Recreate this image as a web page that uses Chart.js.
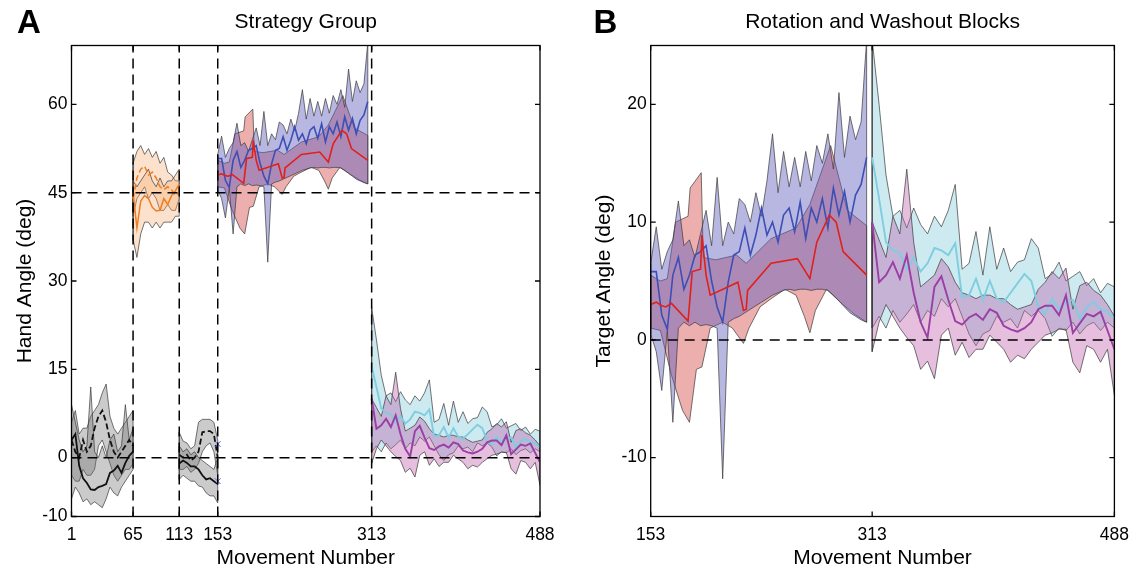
<!DOCTYPE html>
<html>
<head>
<meta charset="utf-8">
<script src="https://cdn.jsdelivr.net/npm/chart.js@4.4.0/dist/chart.umd.min.js"></script>
<style>
    html, body { margin: 0; padding: 0; background: #fff; }
    #wrap { position: relative; width: 1137px; height: 567px; }
    #wrap canvas { position: absolute; top: 0; }
    #chartA { left: 0; }
    #chartB { left: 570px; }
</style>
</head>
<body>
<div id="wrap">
    <canvas id="chartA" width="570" height="567"></canvas>
    <canvas id="chartB" width="567" height="567"></canvas>
</div>
<script>
// ---- axis ticks ----
const xTicksA = [1, 65, 113, 153, 313, 488];
const yTicksA = [-10, 0, 15, 30, 45, 60];
const xTicksB = [153, 313, 488];
const yTicksB = [-10, 0, 10, 20];

// hand angle = target angle + 45 during the rotation block
const ROTATION = 45;

// ---- baseline 1 (movements 1-65), hand angle ----
const base1X = [1, 5, 9, 13, 17, 21, 25, 29, 33, 37, 41, 45, 49, 53, 57, 61, 65];
const gray1SHi = [9, 6, 3, 1, 2, 12, 1, 0, 2, 0, 3, 4, 1, 2, 9, 3, 5];
const gray1SLo = [-7, -5, -6, -7.5, -7, -8, -7.5, -8, -8.5, -7, -5, -6, -6.5, -5, -4, -3, -2];
const black1S = [3, 4, -1.4, -3.5, -4.3, -5.4, -5.5, -5, -4.8, -4.5, -2.6, -2.2, -1.4, -2.6, -0.9, 0.3, 1];
const gray1DHi = [6, 8, 4, 5, 5, 7, 8, 9, 11, 12.5, 7, 5, 4, 5, 6, 7, 8];
const gray1DLo = [-3, -4, -4, -2, -3, -3, -2, 2, 3, 1, -1, -3, -4, -3, -2, -2, -1];
const black1D = [3, 1, 0, 3, 1, 2, 5, 7, 8, 6, 3, 1, 0, 1, 2, 3, 2];

// ---- strategy block (movements 65-113), hand angle ----
const orX = [65, 69, 73, 77, 81, 85, 89, 93, 97, 101, 105, 109, 113];
const or1Hi = [50, 52, 53, 51.5, 52.5, 51, 52, 50, 51, 48.5, 48, 47, 47];
const or1Lo = [41, 44, 45, 46, 44, 45, 44, 42, 42, 43, 42, 42, 44];
const or1Mean = [44, 47.5, 49, 49.5, 48, 48.5, 47.5, 46, 45.5, 46, 45.5, 44.5, 45];
const or2Hi = [47, 46, 47, 48, 49, 47, 46, 47.5, 46, 47, 47, 48, 49];
const or2Lo = [37, 34, 38, 40, 40, 39, 40, 39, 40, 40, 40, 41, 41];
const or2Mean = [45, 39, 43.6, 44.5, 44, 42.5, 41.9, 42, 44, 43, 44.5, 45.3, 46.5];

// ---- baseline 2 (movements 113-153), hand angle ----
const base2X = [113, 117, 121, 125, 129, 133, 137, 141, 145, 149, 153];
const gray2SHi = [2, 1, 1.5, 0.5, 1, 0, -0.5, -1, -1.5, -2, 0];
const gray2SLo = [-3.7, -3, -3.5, -4, -4, -4.8, -5, -6, -6.5, -6.5, -7.7];
const black2S = [-1, -0.5, -0.9, -1.5, -1.5, -2, -3, -3.7, -3.5, -4, -4.5];
const gray2DHi = [4.3, 2.8, 2.5, 1.5, 2, 6, 6.5, 6.5, 6.5, 6, 3];
const gray2DLo = [-2, -2, -1.5, -2.5, -2, -1, 1, 2, 2.5, 1, -3];
const black2D = [0.5, 0, 0.5, -0.5, 0, 1, 4.3, 4.5, 4.5, 4, 0];
const markX = [153, 153];
const markY = [2.3, -4];

// ---- rotation block (movements 153-309), target angle ----
const rotX = [153, 157, 161, 165, 169, 173, 177, 181, 185, 189, 193, 197, 201, 205, 209, 213, 217, 221, 225, 229,
              233, 237, 241, 245, 249, 253, 257, 261, 265, 269, 273, 277, 281, 285, 289, 293, 297, 301, 305, 309];
const blueHi = [6.5, 9.6, 6.0, 7.5, 8.5, 11.8, 8.0, 8.5, 7.0, 9.0, 11.0, 8.0, 13.8, 8.0, 10.0, 9.0, 12.0, 11.5, 10.0, 12.5,
                10.5, 13.5, 17.5, 12.5, 16.0, 13.0, 15.5, 13.0, 16.0, 13.5, 16.5, 15.0, 17.5, 14.5, 21.0, 15.5, 19.0, 17.0, 18.5, 25.5];
const blueLo = [0.5, -1.0, -4.3, 0.8, -7.0, 1.0, 1.5, 1.2, 1.5, 1.2, 1.3, 1.2, 1.0, -11.8, 1.5, 1.8, 2.0, 2.3, 2.6, 2.9,
                3.2, 3.5, 3.8, 4.0, 4.2, 4.3, 4.2, 4.3, 4.3, 4.2, 4.3, 4.3, 4.2, 3.8, 3.3, 2.8, 2.3, 2.0, 1.7, 1.5];
const blueMean = [5.8, 5.8, 2.1, 0.9, 5.5, 7.0, 4.3, 5.5, 7.2, 7.5, 8.0, 5.0, 2.8, 1.5, 4.9, 7.2, 7.5, 9.5, 7.2, 8.9,
                  11.2, 8.9, 10.0, 8.3, 10.6, 11.2, 9.2, 11.7, 8.6, 11.2, 10.0, 12.0, 9.5, 12.9, 10.6, 12.6, 10.0, 12.3, 13.2, 15.5];
const redHiX = [153, 160, 165, 171, 180, 181.5, 189.5, 191, 200, 215, 222, 240, 258, 268, 283, 295, 309];
const redHi = [5.5, 5.0, 5.2, 10.0, 10.5, 12.9, 14.2, 7.0, 6.8, 7.2, 6.5, 8.6, 9.5, 11.5, 16.5, 11.0, 9.7];
const redLoX = [153, 160, 168, 176, 181, 186, 190, 196, 205, 212, 220, 224, 232, 240, 250, 258, 264, 268, 272, 280, 290, 300, 309];
const redLo = [1.0, 0.8, -3.0, -6.0, -7.0, -2.5, -2.3, 1.0, 1.5, 1.0, -0.3, 1.0, 2.8, 3.5, 4.3, 3.8, 2.0, 0.6, 2.5, 4.3, 3.2, 2.2, 1.5];
const redMeanX = [153, 157, 161, 164, 168, 180, 183, 189, 190, 193, 196, 216, 220, 222, 223, 240, 259, 268, 273, 282, 287, 292, 309];
const redMean = [3.0, 3.2, 2.9, 2.8, 3.1, 1.6, 5.8, 6.0, 8.9, 5.5, 3.8, 4.9, 2.5, 2.6, 4.2, 6.5, 6.9, 5.2, 8.3, 10.6, 10.0, 7.5, 5.5];

// ---- washout block (movements 313-488), hand angle = target angle ----
const washX = [313, 318, 323, 328, 333, 338, 343, 348, 353, 358, 363, 368, 373, 378, 383, 388, 393, 398,
               403, 408, 413, 418, 423, 428, 433, 438, 443, 448, 453, 458, 463, 468, 473, 478, 483, 488];
const cyanHi = [25.5, 20.0, 14.0, 10.5, 11.0, 9.5, 11.2, 9.8, 9.0, 10.5, 9.6, 11.0, 13.2, 6.0, 6.5, 9.2, 5.5, 9.6,
                6.0, 7.8, 5.8, 6.6, 6.8, 8.6, 7.8, 5.2, 5.6, 6.6, 5.0, 5.4, 5.8, 4.6, 5.2, 4.0, 4.8, 4.5];
const cyanLo = [1.0, 2.0, 1.0, 2.5, 1.5, 2.2, 3.0, 1.5, 2.5, 2.0, 3.5, 2.8, 3.5, 2.0, 0.5, -0.5, 0.5, 0.8,
                2.0, 1.5, 1.8, 1.0, 2.5, 2.0, 2.5, 1.8, 0.3, 1.0, 0.8, 1.5, 0.5, 1.2, 1.5, 0.8, 1.5, 1.0];
const cyanMean = [15.5, 12.0, 8.3, 7.6, 7.4, 6.0, 7.0, 5.8, 6.5, 7.8, 7.6, 7.2, 8.2, 3.6, 3.8, 5.2, 3.4, 5.0,
                  3.5, 3.2, 4.0, 4.8, 5.6, 5.0, 2.8, 2.2, 3.5, 2.6, 3.2, 3.4, 1.8, 2.8, 3.2, 2.6, 2.4, 1.8];
const pinkHi = [10.0, 8.5, 7.0, 10.5, 9.0, 14.5, 8.3, 4.5, 5.0, 5.5, 6.9, 6.2, 4.9, 4.0, 3.8, 3.5, 3.8, 3.8,
                3.5, 3.5, 3.0, 2.6, 2.8, 3.0, 4.3, 4.9, 5.8, 5.2, 6.1, 2.6, 4.6, 4.9, 4.2, 3.8, 3.0, 2.0];
const pinkLo = [-1.0, 1.5, 3.0, 2.0, 1.0, 0.2, -0.5, -2.5, -1.8, -3.3, 0.4, 1.0, -1.3, -0.2, -1.5, -0.8, -0.8, 0.4,
                -0.2, -0.8, -1.9, -1.3, -1.6, -0.8, -0.2, 0.4, 0.6, 0.9, 0.9, -1.9, -2.8, -0.5, -0.8, -1.9, -0.8, -4.7];
const purpleMean = [10.0, 4.9, 5.5, 6.6, 5.2, 7.2, 4.0, 1.5, 0.2, 4.5, 5.4, 3.4, 1.6, 1.3, 1.9, 2.2, 1.7, 2.6,
                    2.3, 1.2, 0.9, 0.7, 1.0, 1.5, 2.6, 2.9, 2.9, 2.1, 3.8, 0.6, 1.4, 2.2, 2.0, 2.4, 0.8, -0.8];

const FONT = "Helvetica, Arial, 'Liberation Sans', sans-serif";
const EDGE = '#3a3a3a';

Chart.defaults.font.family = FONT;
Chart.defaults.color = '#000';

function xy(xs, ys, shift) {
    return xs.map((x, i) => ({ x: x, y: ys[i] + shift }));
}

// closed outline: lower edge forwards, upper edge backwards
function band(loX, lo, hiX, hi, color, shift, order) {
    let data = xy(loX, lo, shift).concat(xy(hiX, hi, shift).reverse());
    data.push(data[0]);
    return {
        data: data, fill: 'shape', backgroundColor: color,
        borderColor: EDGE, borderWidth: 0.7, pointRadius: 0, order: order
    };
}

function mean(xs, ys, color, width, shift, order, dash) {
    return {
        data: xy(xs, ys, shift), borderColor: color, borderWidth: width,
        borderDash: dash || [], pointRadius: 0, fill: false, order: order
    };
}

function refLine(x0, y0, x1, y1, dash) {
    return {
        data: [{ x: x0, y: y0 }, { x: x1, y: y1 }], borderColor: '#000', borderWidth: 1.5,
        borderDash: dash, pointRadius: 0, fill: false, order: 0
    };
}

const BLUE_FILL = 'rgba(95,95,190,0.45)';
const RED_FILL = 'rgba(215,75,75,0.45)';
const CYAN_FILL = 'rgba(120,200,215,0.38)';
const PINK_FILL = 'rgba(190,95,170,0.40)';
const GRAY_FILL = 'rgba(110,110,110,0.36)';
const ORANGE_FILL = 'rgba(245,165,100,0.32)';

// lower order is drawn on top: blue over red, pink over cyan
function rotationAndWashout(shift) {
    return [
        mean(redMeanX, redMean, '#e0201b', 1.6, shift, 1),
        mean(rotX, blueMean, '#3d4fb5', 1.6, shift, 2),
        mean(washX, purpleMean, '#9a3fa5', 1.9, 0, 1),
        mean(washX, cyanMean, '#7fcde0', 1.9, 0, 2),
        band(rotX, blueLo, rotX, blueHi, BLUE_FILL, shift, 4),
        band(redLoX, redLo, redHiX, redHi, RED_FILL, shift, 5),
        band(washX, pinkLo, washX, pinkHi, PINK_FILL, 0, 4),
        band(washX, cyanLo, washX, cyanHi, CYAN_FILL, 0, 5)
    ];
}

const DASH = [10, 6];

const datasetsA = [
    refLine(1, 45, 488, 45, DASH),
    refLine(1, 0, 488, 0, DASH),
    refLine(65, -10, 65, 70, DASH),
    refLine(113, -10, 113, 70, DASH),
    refLine(153, -10, 153, 70, DASH),
    refLine(313, -10, 313, 70, DASH),
    {
        data: xy(markX, markY, 0), showLine: false, pointStyle: 'crossRot', pointRadius: 4,
        borderColor: '#4a5bd0', borderWidth: 1, order: 0
    },
    mean(base1X, black1S, '#111', 1.8, 0, 1),
    mean(base1X, black1D, '#111', 1.8, 0, 1, [6, 3]),
    mean(base2X, black2S, '#111', 1.8, 0, 1),
    mean(base2X, black2D, '#111', 1.8, 0, 1, [6, 3]),
    mean(orX, or2Mean, '#ef7d22', 1.5, 0, 1),
    mean(orX, or1Mean, '#ef7d22', 1.5, 0, 1, [6, 3]),
    band(base1X, gray1SLo, base1X, gray1SHi, GRAY_FILL, 0, 4),
    band(base1X, gray1DLo, base1X, gray1DHi, GRAY_FILL, 0, 5),
    band(base2X, gray2SLo, base2X, gray2SHi, GRAY_FILL, 0, 4),
    band(base2X, gray2DLo, base2X, gray2DHi, GRAY_FILL, 0, 5),
    band(orX, or2Lo, orX, or2Hi, ORANGE_FILL, 0, 4),
    band(orX, or1Lo, orX, or1Hi, ORANGE_FILL, 0, 5)
].concat(rotationAndWashout(ROTATION));

const datasetsB = [
    refLine(153, 0, 488, 0, [10, 7])
].concat(rotationAndWashout(0));

// box with inward ticks on all four sides, panel letter and title
const framePlugin = {
    id: 'frame',
    afterDraw(chart, args, opts) {
        const { ctx, chartArea: a, scales } = chart;
        ctx.save();
        ctx.strokeStyle = '#000';
        ctx.lineWidth = 1.3;
        ctx.beginPath();
        scales.y.ticks.forEach(t => {
            let py = scales.y.getPixelForValue(t.value);
            ctx.moveTo(a.left, py); ctx.lineTo(a.left + 5, py);
            ctx.moveTo(a.right, py); ctx.lineTo(a.right - 5, py);
        });
        scales.x.ticks.forEach(t => {
            let px = scales.x.getPixelForValue(t.value);
            ctx.moveTo(px, a.bottom); ctx.lineTo(px, a.bottom - 5);
            ctx.moveTo(px, a.top); ctx.lineTo(px, a.top + 5);
        });
        ctx.stroke();
        ctx.strokeRect(a.left, a.top, a.right - a.left, a.bottom - a.top);

        ctx.fillStyle = '#000';
        ctx.textBaseline = 'alphabetic';
        ctx.textAlign = 'left';
        ctx.font = 'bold 33px ' + FONT;
        ctx.fillText(opts.letter, opts.letterX, 33);
        ctx.textAlign = 'center';
        ctx.font = '21px ' + FONT;
        ctx.fillText(opts.title, (a.left + a.right) / 2, 28);
        ctx.restore();
    }
};

function buildChart(canvasId, datasets, cfg) {
    const config = {
        type: 'line',
        data: { datasets: datasets },
        options: {
            responsive: false,
            animation: false,
            devicePixelRatio: 1,
            layout: { padding: { top: 45.5, right: cfg.padRight, left: 0, bottom: 0 } },
            plugins: {
                legend: { display: false },
                tooltip: { enabled: false },
                frame: { letter: cfg.letter, letterX: cfg.letterX, title: cfg.title }
            },
            elements: { line: { tension: 0 } },
            scales: {
                x: {
                    type: 'linear', min: cfg.xMin, max: cfg.xMax,
                    grid: { display: false, drawTicks: false },
                    border: { display: false },
                    ticks: { autoSkip: false, maxRotation: 0, padding: 8, color: '#000', font: { size: 17.5 } },
                    afterBuildTicks: s => { s.ticks = cfg.xTicks.map(v => ({ value: v })); },
                    afterFit: s => { s.height = 50.5; },
                    title: {
                        display: true, text: 'Movement Number', color: '#000',
                        font: { size: 21, lineHeight: 0.8 }, padding: { top: 0, bottom: 0 }
                    }
                },
                y: {
                    type: 'linear', min: cfg.yMin, max: cfg.yMax,
                    grid: { display: false, drawTicks: false },
                    border: { display: false },
                    ticks: { padding: 4, color: '#000', font: { size: 17.5 } },
                    afterBuildTicks: s => { s.ticks = cfg.yTicks.map(v => ({ value: v })); },
                    afterFit: s => { s.width = cfg.yWidth; },
                    title: {
                        display: true, text: cfg.yTitle, color: '#000',
                        font: { size: 21 }, padding: { top: cfg.yTitlePad, bottom: 0 }
                    }
                }
            }
        },
        plugins: [framePlugin]
    };
    return new Chart(document.getElementById(canvasId), config);
}

buildChart('chartA', datasetsA, {
    letter: 'A', letterX: 17, title: 'Strategy Group', padRight: 30,
    xMin: 1, xMax: 488, xTicks: xTicksA,
    yMin: -10, yMax: 70, yTicks: yTicksA,
    yTitle: 'Hand Angle (deg)', yTitlePad: 12.5, yWidth: 71.5
});

buildChart('chartB', datasetsB, {
    letter: 'B', letterX: 23.5, title: 'Rotation and Washout Blocks', padRight: 14.3,
    xMin: 153, xMax: 488, xTicks: xTicksB,
    yMin: -15, yMax: 25, yTicks: yTicksB,
    yTitle: 'Target Angle (deg)', yTitlePad: 21.5, yWidth: 80.7
});
</script>
</body>
</html>
